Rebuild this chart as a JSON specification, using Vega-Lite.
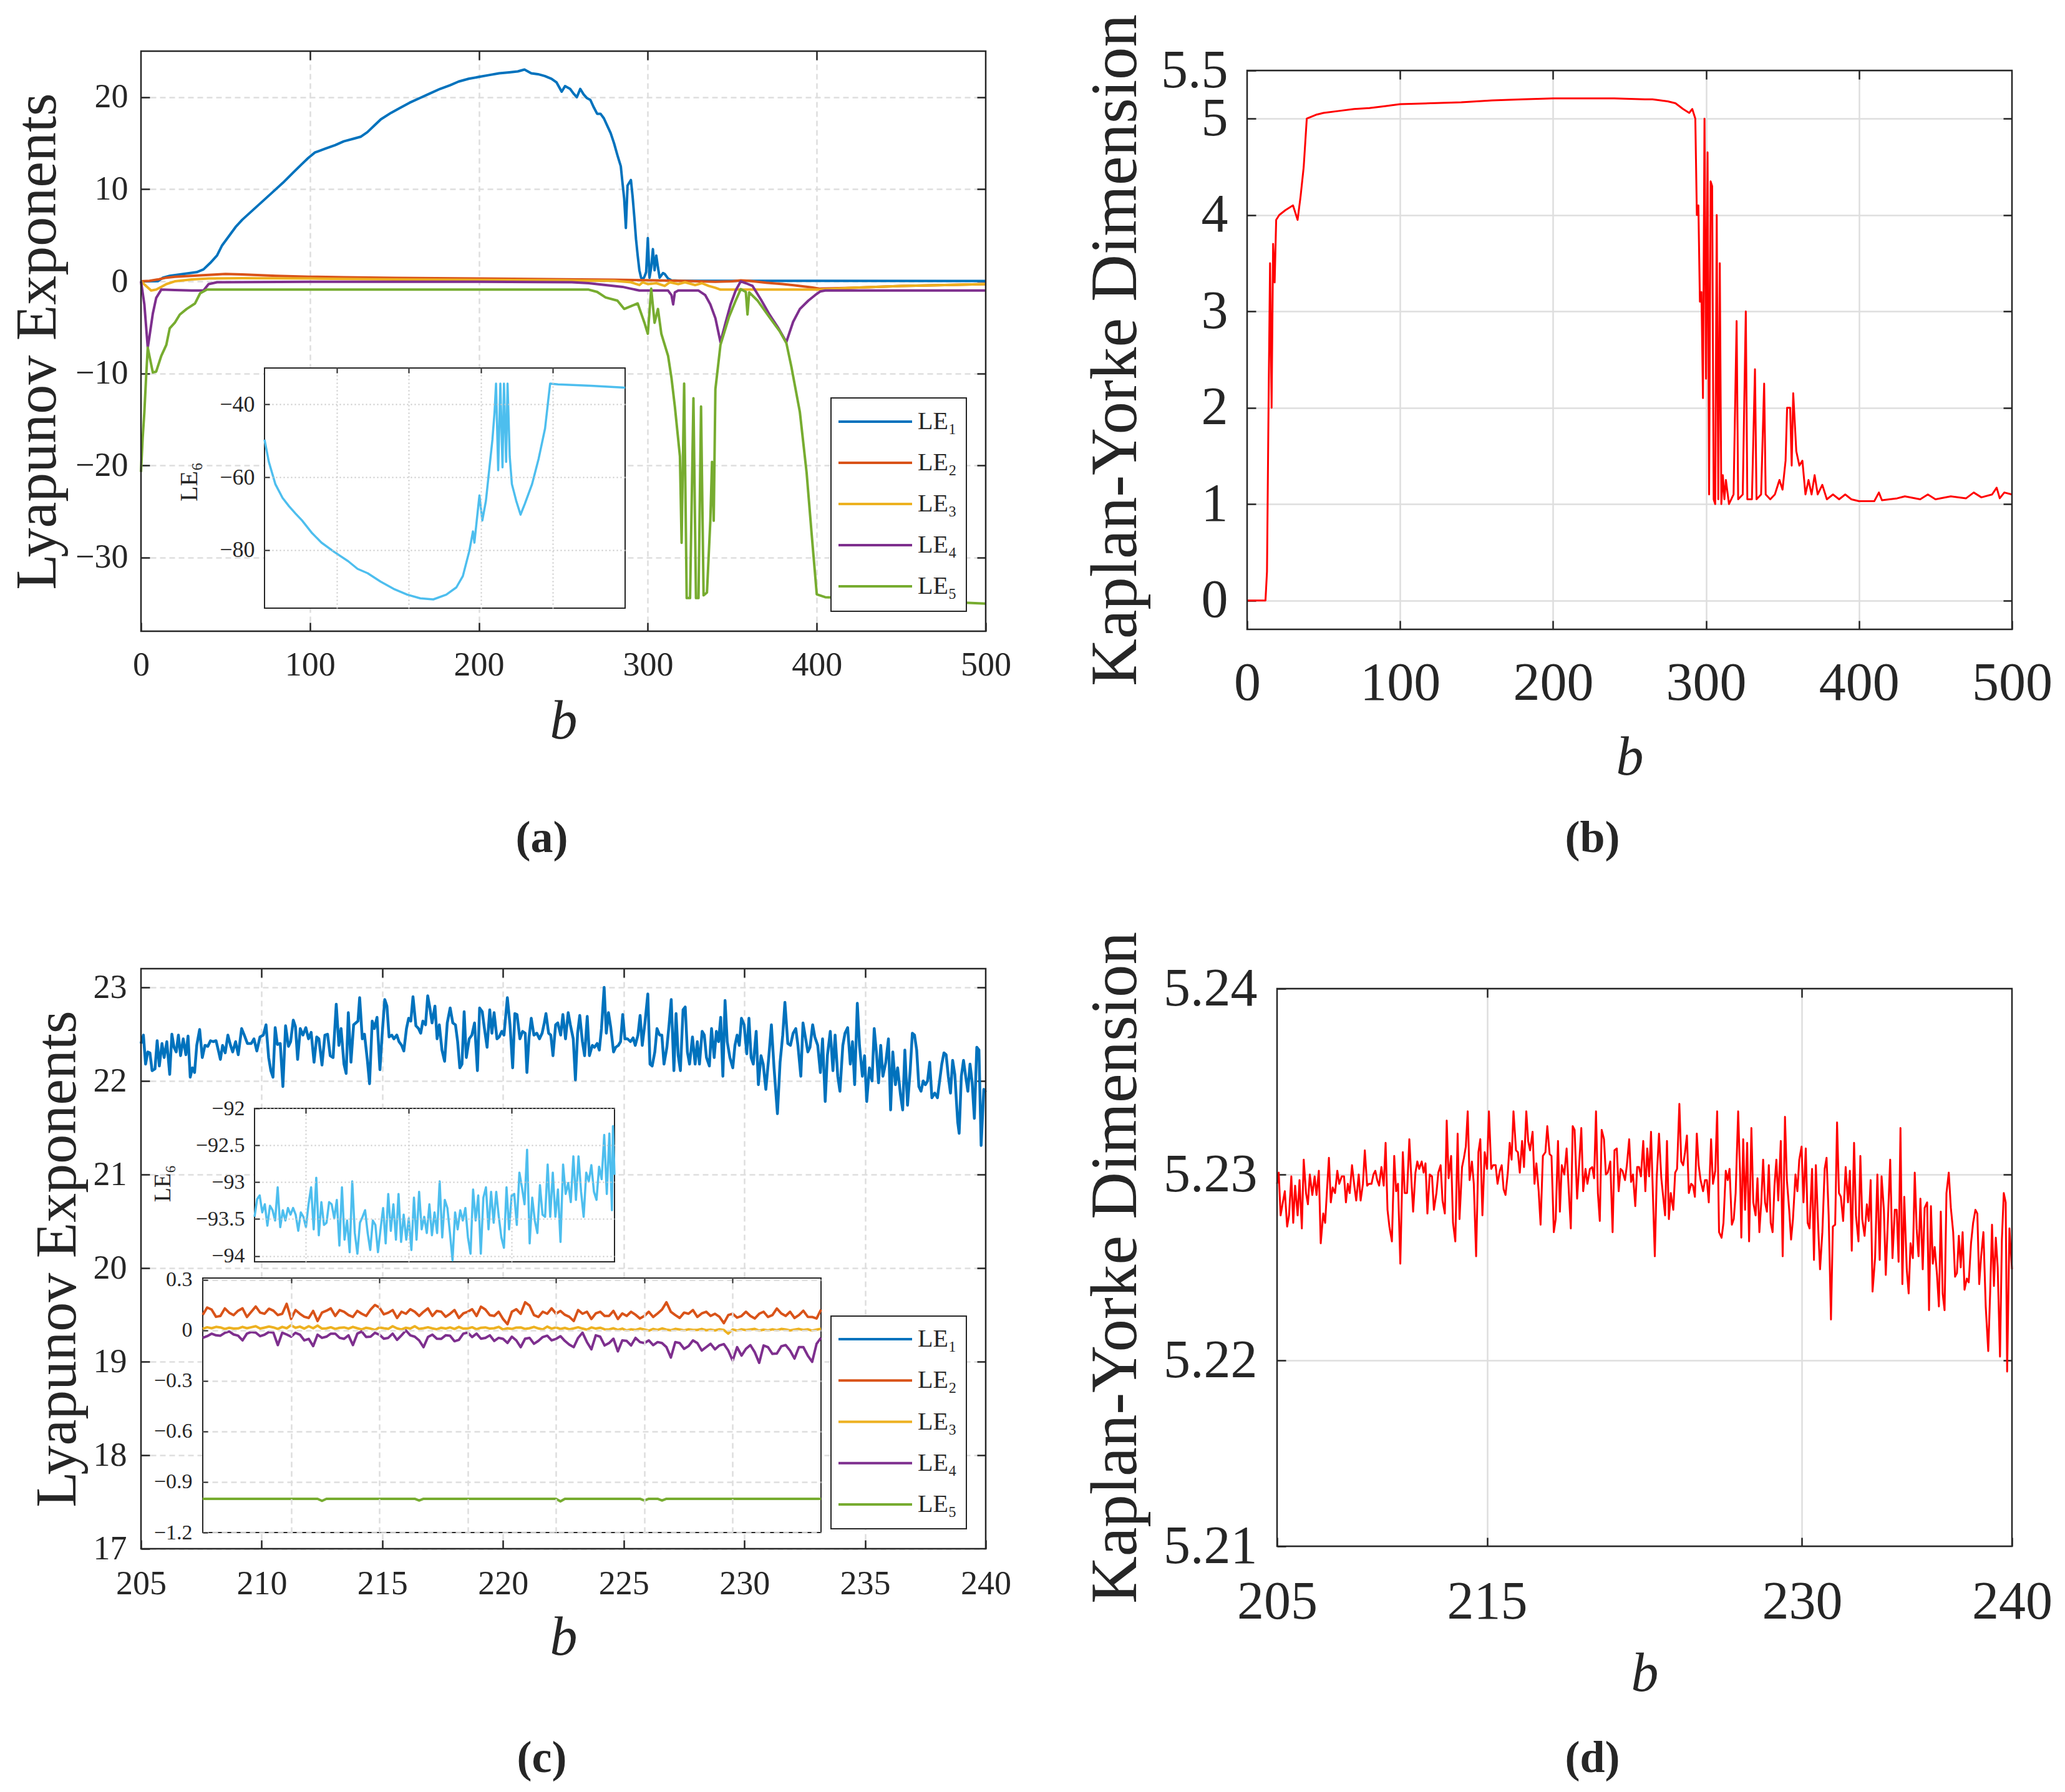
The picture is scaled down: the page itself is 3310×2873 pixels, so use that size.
{
"$schema": "https://vega.github.io/schema/vega-lite/v6.json",
"width": 3310,
"height": 2873,
"autosize": "none",
"padding": 0,
"background": "white",
"config": {
  "font": "Liberation Serif",
  "view": {"stroke": null},
  "axis": {"labelFont": "Liberation Serif", "titleFont": "Liberation Serif", "labelColor": "#262626", "titleColor": "#262626", "tickColor": "#262626", "tickWidth": 2.5, "tickSize": -14, "ticks": true, "domain": false, "titleFontWeight": "normal", "labelFlush": false, "labelOverlap": false, "gridColor": "#DEDEDE", "gridWidth": 2.5, "titleAlign": "center", "titleBaseline": "alphabetic"},
  "text": {"font": "Liberation Serif"}
},
"datasets": {
  "leg": [{"s": "LE1", "lab": "LE₁"}, {"s": "LE2", "lab": "LE₂"}, {"s": "LE3", "lab": "LE₃"}, {"s": "LE4", "lab": "LE₄"}, {"s": "LE5", "lab": "LE₅"}],
  "a": [
    {"s":"LE1","b":0,"v":0},{"s":"LE1","b":10,"v":0.02},{"s":"LE1","b":13,"v":0.4},{"s":"LE1","b":17,"v":0.6},{"s":"LE1","b":21,"v":0.7},{"s":"LE1","b":27,"v":0.85},{"s":"LE1","b":33,"v":1.0},{"s":"LE1","b":37,"v":1.3},{"s":"LE1","b":41,"v":2.0},{"s":"LE1","b":45,"v":2.8},{"s":"LE1","b":48,"v":3.9},{"s":"LE1","b":52,"v":4.9},{"s":"LE1","b":56,"v":5.9},{"s":"LE1","b":60,"v":6.7},{"s":"LE1","b":66,"v":7.7},{"s":"LE1","b":72,"v":8.7},{"s":"LE1","b":78,"v":9.7},{"s":"LE1","b":84,"v":10.7},{"s":"LE1","b":90,"v":11.8},{"s":"LE1","b":95,"v":12.7},{"s":"LE1","b":99,"v":13.4},{"s":"LE1","b":103,"v":14.0},{"s":"LE1","b":109,"v":14.4},{"s":"LE1","b":115,"v":14.8},{"s":"LE1","b":120,"v":15.2},{"s":"LE1","b":126,"v":15.5},{"s":"LE1","b":130,"v":15.7},{"s":"LE1","b":134,"v":16.2},{"s":"LE1","b":138,"v":16.9},{"s":"LE1","b":142,"v":17.6},{"s":"LE1","b":148,"v":18.3},{"s":"LE1","b":153,"v":18.8},{"s":"LE1","b":159,"v":19.4},{"s":"LE1","b":165,"v":19.9},{"s":"LE1","b":171,"v":20.4},{"s":"LE1","b":177,"v":20.9},{"s":"LE1","b":183,"v":21.3},{"s":"LE1","b":188,"v":21.7},{"s":"LE1","b":194,"v":22.0},{"s":"LE1","b":200,"v":22.2},{"s":"LE1","b":206,"v":22.4},{"s":"LE1","b":212,"v":22.6},{"s":"LE1","b":218,"v":22.7},{"s":"LE1","b":223,"v":22.8},{"s":"LE1","b":227,"v":23.0},{"s":"LE1","b":231,"v":22.6},{"s":"LE1","b":235,"v":22.5},{"s":"LE1","b":239,"v":22.3},{"s":"LE1","b":243,"v":22.0},{"s":"LE1","b":246,"v":21.6},{"s":"LE1","b":249,"v":20.6},{"s":"LE1","b":251,"v":21.2},{"s":"LE1","b":254,"v":20.9},{"s":"LE1","b":256,"v":20.4},{"s":"LE1","b":258,"v":20.0},{"s":"LE1","b":260,"v":20.9},{"s":"LE1","b":262,"v":20.3},{"s":"LE1","b":264,"v":19.9},{"s":"LE1","b":266,"v":19.7},{"s":"LE1","b":268,"v":18.9},{"s":"LE1","b":270,"v":18.2},{"s":"LE1","b":272,"v":18.2},{"s":"LE1","b":274,"v":17.7},{"s":"LE1","b":276,"v":16.9},{"s":"LE1","b":278,"v":16.1},{"s":"LE1","b":280,"v":15.0},{"s":"LE1","b":282,"v":13.7},{"s":"LE1","b":284,"v":12.5},{"s":"LE1","b":285,"v":10.7},{"s":"LE1","b":286,"v":9.0},{"s":"LE1","b":287,"v":5.8},{"s":"LE1","b":288,"v":10.4},{"s":"LE1","b":290,"v":11.0},{"s":"LE1","b":291,"v":9.2},{"s":"LE1","b":292,"v":7.0},{"s":"LE1","b":293,"v":4.6},{"s":"LE1","b":294,"v":2.8},{"s":"LE1","b":295,"v":1.2},{"s":"LE1","b":296,"v":0.4},{"s":"LE1","b":297,"v":0.2},{"s":"LE1","b":298,"v":0.5},{"s":"LE1","b":299,"v":1.0},{"s":"LE1","b":300,"v":4.7},{"s":"LE1","b":301,"v":0.4},{"s":"LE1","b":302,"v":1.5},{"s":"LE1","b":303,"v":3.5},{"s":"LE1","b":304,"v":1.2},{"s":"LE1","b":305,"v":2.8},{"s":"LE1","b":306,"v":1.5},{"s":"LE1","b":307,"v":0.4},{"s":"LE1","b":309,"v":0.9},{"s":"LE1","b":310,"v":0.8},{"s":"LE1","b":312,"v":0.3},{"s":"LE1","b":314,"v":0.1},{"s":"LE1","b":320,"v":0.05},{"s":"LE1","b":400,"v":0.05},{"s":"LE1","b":500,"v":0.03},
    {"s":"LE2","b":0,"v":0},{"s":"LE2","b":5,"v":0.05},{"s":"LE2","b":10,"v":0.2},{"s":"LE2","b":15,"v":0.4},{"s":"LE2","b":20,"v":0.5},{"s":"LE2","b":30,"v":0.6},{"s":"LE2","b":40,"v":0.7},{"s":"LE2","b":50,"v":0.8},{"s":"LE2","b":60,"v":0.75},{"s":"LE2","b":80,"v":0.6},{"s":"LE2","b":100,"v":0.5},{"s":"LE2","b":120,"v":0.45},{"s":"LE2","b":150,"v":0.38},{"s":"LE2","b":200,"v":0.3},{"s":"LE2","b":250,"v":0.22},{"s":"LE2","b":280,"v":0.18},{"s":"LE2","b":300,"v":0.12},{"s":"LE2","b":320,"v":0.05},{"s":"LE2","b":340,"v":-0.05},{"s":"LE2","b":350,"v":0.0},{"s":"LE2","b":355,"v":0.1},{"s":"LE2","b":360,"v":0.05},{"s":"LE2","b":370,"v":-0.15},{"s":"LE2","b":380,"v":-0.3},{"s":"LE2","b":390,"v":-0.5},{"s":"LE2","b":397,"v":-0.65},{"s":"LE2","b":402,"v":-0.8},{"s":"LE2","b":420,"v":-0.7},{"s":"LE2","b":450,"v":-0.5},{"s":"LE2","b":480,"v":-0.38},{"s":"LE2","b":500,"v":-0.3},
    {"s":"LE3","b":0,"v":0},{"s":"LE3","b":3,"v":-0.5},{"s":"LE3","b":6,"v":-1.0},{"s":"LE3","b":9,"v":-0.9},{"s":"LE3","b":12,"v":-0.6},{"s":"LE3","b":15,"v":-0.3},{"s":"LE3","b":20,"v":0.0},{"s":"LE3","b":30,"v":0.2},{"s":"LE3","b":40,"v":0.3},{"s":"LE3","b":60,"v":0.35},{"s":"LE3","b":100,"v":0.3},{"s":"LE3","b":150,"v":0.2},{"s":"LE3","b":200,"v":0.15},{"s":"LE3","b":250,"v":0.1},{"s":"LE3","b":280,"v":0.05},{"s":"LE3","b":290,"v":-0.1},{"s":"LE3","b":295,"v":-0.4},{"s":"LE3","b":297,"v":-0.1},{"s":"LE3","b":300,"v":-0.3},{"s":"LE3","b":305,"v":-0.2},{"s":"LE3","b":310,"v":-0.5},{"s":"LE3","b":313,"v":-0.1},{"s":"LE3","b":318,"v":-0.3},{"s":"LE3","b":322,"v":-0.1},{"s":"LE3","b":328,"v":-0.4},{"s":"LE3","b":332,"v":-0.2},{"s":"LE3","b":336,"v":-0.5},{"s":"LE3","b":340,"v":-0.7},{"s":"LE3","b":343,"v":-0.9},{"s":"LE3","b":402,"v":-0.9},{"s":"LE3","b":420,"v":-0.7},{"s":"LE3","b":450,"v":-0.5},{"s":"LE3","b":480,"v":-0.38},{"s":"LE3","b":500,"v":-0.3},
    {"s":"LE4","b":0,"v":0},{"s":"LE4","b":2,"v":-2.5},{"s":"LE4","b":4,"v":-7.2},{"s":"LE4","b":5,"v":-6.0},{"s":"LE4","b":7,"v":-3.5},{"s":"LE4","b":9,"v":-1.8},{"s":"LE4","b":12,"v":-0.9},{"s":"LE4","b":20,"v":-0.95},{"s":"LE4","b":30,"v":-1.0},{"s":"LE4","b":37,"v":-1.0},{"s":"LE4","b":40,"v":-0.3},{"s":"LE4","b":45,"v":-0.1},{"s":"LE4","b":100,"v":-0.05},{"s":"LE4","b":200,"v":-0.05},{"s":"LE4","b":255,"v":-0.1},{"s":"LE4","b":265,"v":-0.2},{"s":"LE4","b":275,"v":-0.4},{"s":"LE4","b":285,"v":-0.6},{"s":"LE4","b":290,"v":-0.8},{"s":"LE4","b":295,"v":-1.0},{"s":"LE4","b":312,"v":-1.0},{"s":"LE4","b":314,"v":-1.5},{"s":"LE4","b":315,"v":-2.5},{"s":"LE4","b":316,"v":-1.2},{"s":"LE4","b":318,"v":-1.0},{"s":"LE4","b":330,"v":-1.0},{"s":"LE4","b":334,"v":-1.5},{"s":"LE4","b":337,"v":-2.5},{"s":"LE4","b":340,"v":-4.0},{"s":"LE4","b":343,"v":-6.6},{"s":"LE4","b":346,"v":-4.5},{"s":"LE4","b":349,"v":-2.5},{"s":"LE4","b":352,"v":-1.0},{"s":"LE4","b":355,"v":0.0},{"s":"LE4","b":358,"v":-0.2},{"s":"LE4","b":362,"v":-0.5},{"s":"LE4","b":367,"v":-2.0},{"s":"LE4","b":372,"v":-3.6},{"s":"LE4","b":377,"v":-5.0},{"s":"LE4","b":382,"v":-6.6},{"s":"LE4","b":384,"v":-5.5},{"s":"LE4","b":386,"v":-4.4},{"s":"LE4","b":390,"v":-3.0},{"s":"LE4","b":395,"v":-2.1},{"s":"LE4","b":399,"v":-1.5},{"s":"LE4","b":402,"v":-1.1},{"s":"LE4","b":405,"v":-1.0},{"s":"LE4","b":500,"v":-1.0},
    {"s":"LE5","b":0,"v":-20.7},{"s":"LE5","b":1,"v":-17},{"s":"LE5","b":2,"v":-14.2},{"s":"LE5","b":3,"v":-10.5},{"s":"LE5","b":4,"v":-7.2},{"s":"LE5","b":5,"v":-8.1},{"s":"LE5","b":7,"v":-9.9},{"s":"LE5","b":9,"v":-9.8},{"s":"LE5","b":12,"v":-8.1},{"s":"LE5","b":15,"v":-6.9},{"s":"LE5","b":17,"v":-5.1},{"s":"LE5","b":20,"v":-4.5},{"s":"LE5","b":23,"v":-3.6},{"s":"LE5","b":27,"v":-3.0},{"s":"LE5","b":32,"v":-2.4},{"s":"LE5","b":35,"v":-1.3},{"s":"LE5","b":39,"v":-0.9},{"s":"LE5","b":100,"v":-0.9},{"s":"LE5","b":200,"v":-0.9},{"s":"LE5","b":265,"v":-0.9},{"s":"LE5","b":270,"v":-1.15},{"s":"LE5","b":275,"v":-1.75},{"s":"LE5","b":282,"v":-2.1},{"s":"LE5","b":286,"v":-3.0},{"s":"LE5","b":290,"v":-2.7},{"s":"LE5","b":294,"v":-2.4},{"s":"LE5","b":298,"v":-4.5},{"s":"LE5","b":300,"v":-5.7},{"s":"LE5","b":302,"v":-0.8},{"s":"LE5","b":304,"v":-4.5},{"s":"LE5","b":306,"v":-3.0},{"s":"LE5","b":308,"v":-5.7},{"s":"LE5","b":312,"v":-8.1},{"s":"LE5","b":314,"v":-10.5},{"s":"LE5","b":316,"v":-13.6},{"s":"LE5","b":319,"v":-19.0},{"s":"LE5","b":320,"v":-28.4},{"s":"LE5","b":321.5,"v":-11.1},{"s":"LE5","b":323,"v":-34.4},{"s":"LE5","b":325,"v":-34.4},{"s":"LE5","b":327,"v":-12.7},{"s":"LE5","b":328.5,"v":-34.4},{"s":"LE5","b":330,"v":-34.4},{"s":"LE5","b":331.5,"v":-13.6},{"s":"LE5","b":333,"v":-34.1},{"s":"LE5","b":335,"v":-33.8},{"s":"LE5","b":337,"v":-26},{"s":"LE5","b":338,"v":-19.6},{"s":"LE5","b":339,"v":-26},{"s":"LE5","b":340,"v":-11.7},{"s":"LE5","b":343,"v":-6.9},{"s":"LE5","b":348,"v":-3.9},{"s":"LE5","b":352,"v":-2.1},{"s":"LE5","b":355,"v":-0.85},{"s":"LE5","b":358,"v":-1.15},{"s":"LE5","b":359,"v":-3.6},{"s":"LE5","b":360,"v":-1.2},{"s":"LE5","b":365,"v":-2.1},{"s":"LE5","b":372,"v":-3.9},{"s":"LE5","b":378,"v":-5.4},{"s":"LE5","b":382,"v":-6.7},{"s":"LE5","b":385,"v":-9.3},{"s":"LE5","b":390,"v":-14.2},{"s":"LE5","b":394,"v":-20.8},{"s":"LE5","b":397,"v":-27.5},{"s":"LE5","b":400,"v":-34.0},{"s":"LE5","b":405,"v":-34.3},{"s":"LE5","b":450,"v":-34.6},{"s":"LE5","b":500,"v":-35.0}
  ],
  "a6": [
    {"b":0,"v":-49.7},{"b":6,"v":-55.8},{"b":15,"v":-61.9},{"b":25,"v":-65.7},{"b":34,"v":-68.0},{"b":43,"v":-70.0},{"b":52,"v":-71.9},{"b":66,"v":-75.4},{"b":79,"v":-78.0},{"b":97,"v":-80.6},{"b":116,"v":-83.1},{"b":129,"v":-85.2},{"b":143,"v":-86.4},{"b":161,"v":-88.7},{"b":179,"v":-90.7},{"b":198,"v":-92.3},{"b":216,"v":-93.3},{"b":234,"v":-93.6},{"b":252,"v":-92.3},{"b":266,"v":-90.3},{"b":275,"v":-87.2},{"b":284,"v":-80.3},{"b":289,"v":-74.9},{"b":291,"v":-78.0},{"b":298,"v":-65.0},{"b":302,"v":-71.9},{"b":307,"v":-66.5},{"b":316,"v":-49.7},{"b":319,"v":-42.0},{"b":321,"v":-34.3},{"b":324,"v":-58.1},{"b":327,"v":-34.3},{"b":330,"v":-57.3},{"b":332,"v":-34.3},{"b":335,"v":-55.8},{"b":337,"v":-34.3},{"b":340,"v":-54.3},{"b":343,"v":-61.9},{"b":349,"v":-66.5},{"b":355,"v":-70.3},{"b":361,"v":-67.3},{"b":371,"v":-61.9},{"b":380,"v":-55.0},{"b":389,"v":-46.6},{"b":396,"v":-34.3},{"b":407,"v":-34.5},{"b":453,"v":-34.9},{"b":500,"v":-35.4}
  ],
  "b": [
    {"b":0,"v":0},{"b":12,"v":0},{"b":13,"v":0.3},{"b":14,"v":2.0},{"b":15,"v":3.5},{"b":16,"v":2.0},{"b":17,"v":3.7},{"b":18,"v":3.3},{"b":19,"v":3.95},{"b":21,"v":4.0},{"b":25,"v":4.05},{"b":30,"v":4.1},{"b":33,"v":3.95},{"b":35,"v":4.2},{"b":37,"v":4.5},{"b":39,"v":5.0},{"b":45,"v":5.04},{"b":50,"v":5.06},{"b":60,"v":5.08},{"b":70,"v":5.1},{"b":80,"v":5.11},{"b":90,"v":5.13},{"b":100,"v":5.15},{"b":120,"v":5.16},{"b":140,"v":5.17},{"b":160,"v":5.19},{"b":180,"v":5.2},{"b":200,"v":5.21},{"b":220,"v":5.21},{"b":240,"v":5.21},{"b":260,"v":5.2},{"b":265,"v":5.2},{"b":275,"v":5.18},{"b":280,"v":5.16},{"b":285,"v":5.1},{"b":289,"v":5.06},{"b":291,"v":5.1},{"b":293,"v":5.0},{"b":294,"v":4.0},{"b":295,"v":4.1},{"b":296,"v":3.1},{"b":297,"v":3.2},{"b":298,"v":2.1},{"b":299,"v":5.0},{"b":300,"v":2.3},{"b":301,"v":4.65},{"b":302,"v":1.1},{"b":303,"v":4.35},{"b":304,"v":4.3},{"b":305,"v":1.05},{"b":306,"v":1.0},{"b":307,"v":4.0},{"b":308,"v":1.05},{"b":309,"v":3.5},{"b":310,"v":1.0},{"b":311,"v":1.3},{"b":312,"v":1.05},{"b":313,"v":1.25},{"b":315,"v":1.0},{"b":318,"v":1.1},{"b":320,"v":2.9},{"b":321,"v":1.05},{"b":324,"v":1.1},{"b":326,"v":3.0},{"b":327,"v":1.05},{"b":330,"v":1.05},{"b":332,"v":2.4},{"b":333,"v":1.05},{"b":336,"v":1.1},{"b":338,"v":2.25},{"b":339,"v":1.1},{"b":342,"v":1.05},{"b":345,"v":1.1},{"b":348,"v":1.25},{"b":350,"v":1.15},{"b":352,"v":1.45},{"b":353,"v":2.0},{"b":355,"v":2.0},{"b":356,"v":1.4},{"b":357,"v":2.15},{"b":359,"v":1.55},{"b":361,"v":1.4},{"b":363,"v":1.45},{"b":365,"v":1.1},{"b":367,"v":1.25},{"b":369,"v":1.1},{"b":371,"v":1.3},{"b":373,"v":1.1},{"b":376,"v":1.2},{"b":379,"v":1.05},{"b":383,"v":1.1},{"b":387,"v":1.05},{"b":391,"v":1.1},{"b":395,"v":1.05},{"b":400,"v":1.03},{"b":410,"v":1.03},{"b":413,"v":1.12},{"b":415,"v":1.04},{"b":425,"v":1.06},{"b":430,"v":1.08},{"b":440,"v":1.05},{"b":445,"v":1.1},{"b":450,"v":1.05},{"b":460,"v":1.08},{"b":470,"v":1.06},{"b":475,"v":1.12},{"b":480,"v":1.07},{"b":487,"v":1.1},{"b":490,"v":1.17},{"b":492,"v":1.06},{"b":495,"v":1.12},{"b":500,"v":1.1}
  ],
  "c1": [
    {"b":205.0,"v":22.40},{"b":205.10,"v":22.49},{"b":205.19,"v":22.18},{"b":205.28,"v":22.31},{"b":205.37,"v":22.30},{"b":205.46,"v":22.11},{"b":205.58,"v":22.13},{"b":205.67,"v":22.43},{"b":205.76,"v":22.16},{"b":205.87,"v":22.40},{"b":205.96,"v":22.25},{"b":206.07,"v":22.42},{"b":206.19,"v":22.07},{"b":206.28,"v":22.50},{"b":206.37,"v":22.36},{"b":206.46,"v":22.31},{"b":206.55,"v":22.49},{"b":206.64,"v":22.27},{"b":206.75,"v":22.45},{"b":206.86,"v":22.28},{"b":206.95,"v":22.48},{"b":207.04,"v":22.04},{"b":207.13,"v":22.14},{"b":207.22,"v":22.09},{"b":207.31,"v":22.38},{"b":207.43,"v":22.55},{"b":207.54,"v":22.25},{"b":207.65,"v":22.38},{"b":207.77,"v":22.37},{"b":207.88,"v":22.43},{"b":207.99,"v":22.42},{"b":208.11,"v":22.43},{"b":208.22,"v":22.31},{"b":208.29,"v":22.23},{"b":208.38,"v":22.38},{"b":208.49,"v":22.30},{"b":208.60,"v":22.49},{"b":208.71,"v":22.38},{"b":208.80,"v":22.31},{"b":208.92,"v":22.42},{"b":209.03,"v":22.28},{"b":209.17,"v":22.56},{"b":209.28,"v":22.49},{"b":209.41,"v":22.40},{"b":209.57,"v":22.40},{"b":209.68,"v":22.45},{"b":209.80,"v":22.32},{"b":209.93,"v":22.47},{"b":210.07,"v":22.49},{"b":210.18,"v":22.60},{"b":210.29,"v":22.25},{"b":210.38,"v":22.11},{"b":210.47,"v":22.04},{"b":210.56,"v":22.57},{"b":210.65,"v":22.39},{"b":210.77,"v":22.40},{"b":210.88,"v":21.94},{"b":210.99,"v":22.59},{"b":211.11,"v":22.37},{"b":211.20,"v":22.42},{"b":211.31,"v":22.65},{"b":211.40,"v":22.58},{"b":211.49,"v":22.23},{"b":211.60,"v":22.56},{"b":211.71,"v":22.49},{"b":211.83,"v":22.57},{"b":211.94,"v":22.45},{"b":212.05,"v":22.52},{"b":212.17,"v":22.20},{"b":212.28,"v":22.47},{"b":212.37,"v":22.45},{"b":212.50,"v":22.17},{"b":212.62,"v":22.49},{"b":212.73,"v":22.50},{"b":212.84,"v":22.27},{"b":212.96,"v":22.25},{"b":213.09,"v":22.82},{"b":213.20,"v":22.38},{"b":213.29,"v":22.56},{"b":213.41,"v":22.18},{"b":213.50,"v":22.08},{"b":213.59,"v":22.73},{"b":213.70,"v":22.20},{"b":213.81,"v":22.60},{"b":213.90,"v":22.62},{"b":213.99,"v":22.64},{"b":214.06,"v":22.89},{"b":214.17,"v":22.45},{"b":214.26,"v":22.50},{"b":214.38,"v":22.22},{"b":214.47,"v":21.97},{"b":214.58,"v":22.64},{"b":214.67,"v":22.56},{"b":214.78,"v":22.68},{"b":214.90,"v":22.12},{"b":214.99,"v":22.49},{"b":215.10,"v":22.87},{"b":215.19,"v":22.80},{"b":215.28,"v":22.47},{"b":215.39,"v":22.49},{"b":215.48,"v":22.45},{"b":215.60,"v":22.49},{"b":215.69,"v":22.42},{"b":215.80,"v":22.38},{"b":215.89,"v":22.32},{"b":216.00,"v":22.56},{"b":216.09,"v":22.67},{"b":216.18,"v":22.64},{"b":216.27,"v":22.90},{"b":216.39,"v":22.59},{"b":216.50,"v":22.56},{"b":216.59,"v":22.51},{"b":216.68,"v":22.64},{"b":216.79,"v":22.60},{"b":216.88,"v":22.91},{"b":216.97,"v":22.78},{"b":217.06,"v":22.62},{"b":217.18,"v":22.80},{"b":217.27,"v":22.45},{"b":217.36,"v":22.60},{"b":217.47,"v":22.33},{"b":217.58,"v":22.21},{"b":217.69,"v":22.62},{"b":217.81,"v":22.78},{"b":217.92,"v":22.62},{"b":218.03,"v":22.60},{"b":218.12,"v":22.42},{"b":218.21,"v":22.14},{"b":218.30,"v":22.18},{"b":218.39,"v":22.74},{"b":218.48,"v":22.25},{"b":218.60,"v":22.45},{"b":218.71,"v":22.49},{"b":218.82,"v":22.62},{"b":218.94,"v":22.11},{"b":219.03,"v":22.78},{"b":219.14,"v":22.74},{"b":219.23,"v":22.56},{"b":219.34,"v":22.36},{"b":219.45,"v":22.76},{"b":219.54,"v":22.51},{"b":219.63,"v":22.73},{"b":219.75,"v":22.45},{"b":219.84,"v":22.47},{"b":219.95,"v":22.53},{"b":220.04,"v":22.49},{"b":220.18,"v":22.89},{"b":220.29,"v":22.60},{"b":220.40,"v":22.14},{"b":220.49,"v":22.72},{"b":220.58,"v":22.71},{"b":220.70,"v":22.45},{"b":220.81,"v":22.53},{"b":220.92,"v":22.51},{"b":220.99,"v":22.09},{"b":221.08,"v":22.47},{"b":221.17,"v":22.67},{"b":221.28,"v":22.49},{"b":221.40,"v":22.51},{"b":221.51,"v":22.45},{"b":221.62,"v":22.51},{"b":221.71,"v":22.62},{"b":221.78,"v":22.72},{"b":221.89,"v":22.51},{"b":221.98,"v":22.49},{"b":222.07,"v":22.27},{"b":222.18,"v":22.60},{"b":222.27,"v":22.62},{"b":222.39,"v":22.49},{"b":222.48,"v":22.71},{"b":222.59,"v":22.45},{"b":222.70,"v":22.73},{"b":222.79,"v":22.60},{"b":222.91,"v":22.45},{"b":223.00,"v":22.01},{"b":223.09,"v":22.51},{"b":223.18,"v":22.70},{"b":223.29,"v":22.42},{"b":223.38,"v":22.27},{"b":223.49,"v":22.69},{"b":223.58,"v":22.27},{"b":223.70,"v":22.38},{"b":223.79,"v":22.36},{"b":223.90,"v":22.40},{"b":223.99,"v":22.33},{"b":224.08,"v":22.56},{"b":224.19,"v":23.00},{"b":224.28,"v":22.51},{"b":224.37,"v":22.73},{"b":224.46,"v":22.58},{"b":224.58,"v":22.31},{"b":224.67,"v":22.36},{"b":224.78,"v":22.38},{"b":224.87,"v":22.42},{"b":224.96,"v":22.71},{"b":225.05,"v":22.45},{"b":225.16,"v":22.45},{"b":225.28,"v":22.42},{"b":225.39,"v":22.46},{"b":225.48,"v":22.38},{"b":225.59,"v":22.49},{"b":225.68,"v":22.70},{"b":225.77,"v":22.38},{"b":225.88,"v":22.62},{"b":226.00,"v":22.93},{"b":226.09,"v":22.18},{"b":226.18,"v":22.16},{"b":226.29,"v":22.31},{"b":226.38,"v":22.56},{"b":226.49,"v":22.49},{"b":226.58,"v":22.49},{"b":226.67,"v":22.18},{"b":226.79,"v":22.36},{"b":226.88,"v":22.60},{"b":226.97,"v":22.87},{"b":227.08,"v":22.11},{"b":227.17,"v":22.72},{"b":227.26,"v":22.27},{"b":227.35,"v":22.11},{"b":227.46,"v":22.76},{"b":227.55,"v":22.79},{"b":227.64,"v":22.31},{"b":227.73,"v":22.18},{"b":227.85,"v":22.47},{"b":227.96,"v":22.18},{"b":228.05,"v":22.42},{"b":228.14,"v":22.18},{"b":228.25,"v":22.53},{"b":228.34,"v":22.49},{"b":228.43,"v":22.25},{"b":228.55,"v":22.16},{"b":228.64,"v":22.56},{"b":228.75,"v":22.25},{"b":228.84,"v":22.53},{"b":228.93,"v":22.42},{"b":229.02,"v":22.68},{"b":229.11,"v":22.05},{"b":229.20,"v":22.86},{"b":229.29,"v":22.42},{"b":229.40,"v":22.25},{"b":229.52,"v":22.14},{"b":229.61,"v":22.38},{"b":229.70,"v":22.49},{"b":229.79,"v":22.38},{"b":229.88,"v":22.67},{"b":229.99,"v":22.60},{"b":230.10,"v":22.29},{"b":230.19,"v":22.67},{"b":230.28,"v":22.25},{"b":230.37,"v":22.18},{"b":230.49,"v":22.53},{"b":230.58,"v":21.96},{"b":230.69,"v":22.27},{"b":230.78,"v":22.18},{"b":230.89,"v":21.91},{"b":231.01,"v":22.25},{"b":231.12,"v":22.60},{"b":231.23,"v":22.14},{"b":231.37,"v":21.65},{"b":231.48,"v":22.20},{"b":231.59,"v":22.49},{"b":231.68,"v":22.84},{"b":231.80,"v":22.40},{"b":231.91,"v":22.38},{"b":232.02,"v":22.51},{"b":232.13,"v":22.56},{"b":232.22,"v":22.38},{"b":232.34,"v":22.05},{"b":232.43,"v":22.62},{"b":232.54,"v":22.45},{"b":232.63,"v":22.31},{"b":232.72,"v":22.36},{"b":232.83,"v":22.60},{"b":232.92,"v":22.47},{"b":233.04,"v":22.38},{"b":233.15,"v":22.09},{"b":233.24,"v":22.45},{"b":233.35,"v":21.78},{"b":233.44,"v":22.27},{"b":233.56,"v":22.53},{"b":233.67,"v":22.11},{"b":233.76,"v":22.49},{"b":233.87,"v":22.05},{"b":233.96,"v":21.89},{"b":234.08,"v":22.38},{"b":234.17,"v":22.51},{"b":234.28,"v":22.57},{"b":234.39,"v":22.18},{"b":234.48,"v":22.42},{"b":234.57,"v":21.96},{"b":234.68,"v":22.83},{"b":234.77,"v":22.38},{"b":234.89,"v":22.05},{"b":234.98,"v":22.27},{"b":235.07,"v":21.78},{"b":235.18,"v":22.14},{"b":235.29,"v":22.00},{"b":235.38,"v":22.56},{"b":235.47,"v":22.31},{"b":235.56,"v":21.98},{"b":235.65,"v":22.38},{"b":235.74,"v":22.05},{"b":235.86,"v":22.20},{"b":235.97,"v":22.45},{"b":236.06,"v":21.69},{"b":236.15,"v":22.31},{"b":236.26,"v":21.96},{"b":236.35,"v":22.14},{"b":236.47,"v":21.85},{"b":236.56,"v":21.69},{"b":236.65,"v":22.33},{"b":236.76,"v":21.74},{"b":236.87,"v":22.11},{"b":236.96,"v":22.51},{"b":237.05,"v":22.49},{"b":237.14,"v":22.33},{"b":237.23,"v":21.94},{"b":237.32,"v":21.89},{"b":237.41,"v":22.00},{"b":237.50,"v":21.96},{"b":237.59,"v":22.00},{"b":237.68,"v":22.20},{"b":237.77,"v":21.82},{"b":237.89,"v":21.87},{"b":238.00,"v":21.82},{"b":238.09,"v":22.00},{"b":238.18,"v":22.18},{"b":238.27,"v":22.30},{"b":238.36,"v":22.28},{"b":238.45,"v":22.05},{"b":238.54,"v":21.87},{"b":238.63,"v":22.22},{"b":238.72,"v":22.07},{"b":238.84,"v":21.56},{"b":238.90,"v":21.44},{"b":238.99,"v":22.05},{"b":239.08,"v":22.22},{"b":239.17,"v":22.05},{"b":239.26,"v":21.89},{"b":239.35,"v":22.18},{"b":239.44,"v":21.98},{"b":239.53,"v":21.60},{"b":239.63,"v":22.36},{"b":239.72,"v":22.33},{"b":239.81,"v":21.31},{"b":239.92,"v":21.91},{"b":240.0,"v":21.88}
  ],
  "c6": [
    {"b":205,"v":-93.47},{"b":205.25,"v":-93.23},{"b":205.5,"v":-93.18},{"b":205.75,"v":-93.41},{"b":206,"v":-93.30},{"b":206.25,"v":-93.59},{"b":206.5,"v":-93.32},{"b":206.75,"v":-93.38},{"b":207,"v":-93.52},{"b":207.25,"v":-93.07},{"b":207.5,"v":-93.61},{"b":207.75,"v":-93.38},{"b":208,"v":-93.52},{"b":208.25,"v":-93.35},{"b":208.5,"v":-93.44},{"b":208.75,"v":-93.35},{"b":209,"v":-93.44},{"b":209.25,"v":-93.66},{"b":209.5,"v":-93.41},{"b":209.75,"v":-93.47},{"b":210,"v":-93.61},{"b":210.25,"v":-93.30},{"b":210.5,"v":-93.07},{"b":210.75,"v":-93.64},{"b":211,"v":-92.94},{"b":211.25,"v":-93.72},{"b":211.5,"v":-93.27},{"b":211.75,"v":-93.58},{"b":212,"v":-93.55},{"b":212.25,"v":-93.27},{"b":212.5,"v":-93.30},{"b":212.75,"v":-93.49},{"b":213,"v":-93.24},{"b":213.25,"v":-93.86},{"b":213.5,"v":-93.07},{"b":213.75,"v":-93.78},{"b":214,"v":-93.52},{"b":214.25,"v":-93.95},{"b":214.5,"v":-92.99},{"b":214.75,"v":-93.69},{"b":215,"v":-93.97},{"b":215.25,"v":-93.55},{"b":215.5,"v":-93.47},{"b":215.75,"v":-93.38},{"b":216,"v":-93.69},{"b":216.25,"v":-93.92},{"b":216.5,"v":-93.52},{"b":216.75,"v":-93.58},{"b":217,"v":-93.95},{"b":217.25,"v":-93.64},{"b":217.5,"v":-93.35},{"b":217.75,"v":-93.83},{"b":218,"v":-93.16},{"b":218.25,"v":-93.66},{"b":218.5,"v":-93.30},{"b":218.75,"v":-93.78},{"b":219,"v":-93.16},{"b":219.25,"v":-93.81},{"b":219.5,"v":-93.44},{"b":219.75,"v":-93.78},{"b":220,"v":-93.49},{"b":220.25,"v":-93.92},{"b":220.5,"v":-93.21},{"b":220.75,"v":-93.78},{"b":221,"v":-93.13},{"b":221.25,"v":-93.64},{"b":221.5,"v":-93.47},{"b":221.75,"v":-93.69},{"b":222,"v":-93.30},{"b":222.25,"v":-93.72},{"b":222.5,"v":-93.41},{"b":222.75,"v":-93.69},{"b":223,"v":-92.99},{"b":223.25,"v":-93.75},{"b":223.5,"v":-93.24},{"b":223.75,"v":-93.35},{"b":224,"v":-93.69},{"b":224.25,"v":-94.06},{"b":224.5,"v":-93.41},{"b":224.75,"v":-93.64},{"b":225,"v":-93.38},{"b":225.25,"v":-93.52},{"b":225.5,"v":-93.35},{"b":225.75,"v":-93.75},{"b":226,"v":-93.97},{"b":226.25,"v":-93.10},{"b":226.5,"v":-93.52},{"b":226.75,"v":-93.18},{"b":227,"v":-93.97},{"b":227.25,"v":-93.21},{"b":227.5,"v":-93.07},{"b":227.75,"v":-93.64},{"b":228,"v":-93.13},{"b":228.25,"v":-93.55},{"b":228.5,"v":-93.13},{"b":228.75,"v":-93.47},{"b":229,"v":-93.75},{"b":229.25,"v":-93.89},{"b":229.5,"v":-93.07},{"b":229.75,"v":-93.64},{"b":230,"v":-93.18},{"b":230.25,"v":-93.16},{"b":230.5,"v":-93.58},{"b":230.75,"v":-92.87},{"b":231,"v":-93.07},{"b":231.25,"v":-93.30},{"b":231.5,"v":-92.56},{"b":231.75,"v":-93.83},{"b":232,"v":-93.21},{"b":232.25,"v":-93.52},{"b":232.5,"v":-93.69},{"b":232.75,"v":-93.04},{"b":233,"v":-93.44},{"b":233.25,"v":-93.47},{"b":233.5,"v":-92.76},{"b":233.75,"v":-93.47},{"b":234,"v":-92.87},{"b":234.25,"v":-93.47},{"b":234.5,"v":-93.10},{"b":234.75,"v":-93.81},{"b":235,"v":-92.76},{"b":235.25,"v":-93.16},{"b":235.5,"v":-93.01},{"b":235.75,"v":-93.27},{"b":236,"v":-92.65},{"b":236.25,"v":-93.24},{"b":236.5,"v":-92.65},{"b":236.75,"v":-93.13},{"b":237,"v":-93.47},{"b":237.25,"v":-92.87},{"b":237.5,"v":-92.99},{"b":237.75,"v":-92.77},{"b":238,"v":-93.13},{"b":238.25,"v":-93.24},{"b":238.5,"v":-92.79},{"b":238.75,"v":-92.96},{"b":239,"v":-92.36},{"b":239.25,"v":-93.16},{"b":239.5,"v":-92.34},{"b":239.75,"v":-93.38},{"b":239.85,"v":-92.24},{"b":240,"v":-92.90}
  ],
  "cs": [
    {"b":205,"LE2":0.092,"LE3":0.009,"LE4":-0.045,"LE5":-1},{"b":205.25,"LE2":0.135,"LE3":0.018,"LE4":-0.035,"LE5":-1},{"b":205.5,"LE2":0.123,"LE3":0.012,"LE4":-0.020,"LE5":-1},{"b":205.75,"LE2":0.080,"LE3":0.020,"LE4":-0.030,"LE5":-1},
    {"b":206,"LE2":0.085,"LE3":0.017,"LE4":-0.032,"LE5":-1},{"b":206.25,"LE2":0.130,"LE3":0.008,"LE4":-0.015,"LE5":-1},{"b":206.5,"LE2":0.104,"LE3":0.015,"LE4":-0.007,"LE5":-1},{"b":206.75,"LE2":0.090,"LE3":0.010,"LE4":-0.025,"LE5":-1},
    {"b":207,"LE2":0.116,"LE3":0.011,"LE4":-0.032,"LE5":-1},{"b":207.25,"LE2":0.130,"LE3":0.020,"LE4":-0.060,"LE5":-1},{"b":207.5,"LE2":0.079,"LE3":0.012,"LE4":-0.020,"LE5":-1},{"b":207.75,"LE2":0.110,"LE3":0.018,"LE4":-0.010,"LE5":-1},
    {"b":208,"LE2":0.141,"LE3":0.024,"LE4":-0.014,"LE5":-1},{"b":208.25,"LE2":0.105,"LE3":0.010,"LE4":-0.035,"LE5":-1},{"b":208.5,"LE2":0.098,"LE3":0.016,"LE4":-0.026,"LE5":-1},{"b":208.75,"LE2":0.128,"LE3":0.022,"LE4":-0.010,"LE5":-1},
    {"b":209,"LE2":0.116,"LE3":0.017,"LE4":-0.014,"LE5":-1},{"b":209.25,"LE2":0.090,"LE3":0.008,"LE4":-0.088,"LE5":-1},{"b":209.5,"LE2":0.098,"LE3":0.020,"LE4":-0.014,"LE5":-1},{"b":209.75,"LE2":0.157,"LE3":0.012,"LE4":-0.025,"LE5":-1},
    {"b":210,"LE2":0.067,"LE3":0.030,"LE4":-0.038,"LE5":-1},{"b":210.25,"LE2":0.120,"LE3":0.015,"LE4":-0.015,"LE5":-1},{"b":210.5,"LE2":0.098,"LE3":0.022,"LE4":-0.026,"LE5":-1},{"b":210.75,"LE2":0.080,"LE3":0.010,"LE4":-0.060,"LE5":-1},
    {"b":211,"LE2":0.073,"LE3":0.024,"LE4":-0.051,"LE5":-1},{"b":211.25,"LE2":0.115,"LE3":0.012,"LE4":-0.094,"LE5":-1},{"b":211.5,"LE2":0.055,"LE3":0.028,"LE4":-0.026,"LE5":-1},{"b":211.75,"LE2":0.105,"LE3":0.010,"LE4":-0.045,"LE5":-1.012},
    {"b":212,"LE2":0.116,"LE3":0.011,"LE4":-0.038,"LE5":-1},{"b":212.25,"LE2":0.130,"LE3":0.018,"LE4":-0.020,"LE5":-1},{"b":212.5,"LE2":0.085,"LE3":0.008,"LE4":-0.020,"LE5":-1},{"b":212.75,"LE2":0.120,"LE3":0.015,"LE4":-0.045,"LE5":-1},
    {"b":213,"LE2":0.110,"LE3":0.017,"LE4":-0.051,"LE5":-1},{"b":213.25,"LE2":0.090,"LE3":0.010,"LE4":-0.030,"LE5":-1},{"b":213.5,"LE2":0.079,"LE3":0.020,"LE4":-0.088,"LE5":-1},{"b":213.75,"LE2":0.115,"LE3":0.012,"LE4":-0.020,"LE5":-1},
    {"b":214,"LE2":0.098,"LE3":0.005,"LE4":-0.007,"LE5":-1},{"b":214.25,"LE2":0.085,"LE3":0.015,"LE4":-0.040,"LE5":-1},{"b":214.5,"LE2":0.123,"LE3":0.010,"LE4":-0.038,"LE5":-1},{"b":214.75,"LE2":0.150,"LE3":0.002,"LE4":-0.015,"LE5":-1},
    {"b":215,"LE2":0.135,"LE3":0.017,"LE4":-0.026,"LE5":-1},{"b":215.25,"LE2":0.095,"LE3":0.012,"LE4":-0.050,"LE5":-1},{"b":215.5,"LE2":0.104,"LE3":0.008,"LE4":-0.045,"LE5":-1},{"b":215.75,"LE2":0.120,"LE3":0.024,"LE4":-0.020,"LE5":-1},
    {"b":216,"LE2":0.073,"LE3":0.011,"LE4":-0.057,"LE5":-1},{"b":216.25,"LE2":0.110,"LE3":0.005,"LE4":-0.030,"LE5":-1},{"b":216.5,"LE2":0.098,"LE3":0.015,"LE4":-0.001,"LE5":-1},{"b":216.75,"LE2":0.125,"LE3":0.010,"LE4":-0.030,"LE5":-1},
    {"b":217,"LE2":0.110,"LE3":0.024,"LE4":-0.038,"LE5":-1},{"b":217.25,"LE2":0.085,"LE3":0.008,"LE4":-0.060,"LE5":-1.01},{"b":217.5,"LE2":0.110,"LE3":0.012,"LE4":-0.100,"LE5":-1},{"b":217.75,"LE2":0.130,"LE3":0.018,"LE4":-0.040,"LE5":-1},
    {"b":218,"LE2":0.085,"LE3":0.011,"LE4":-0.026,"LE5":-1},{"b":218.25,"LE2":0.115,"LE3":0.006,"LE4":-0.050,"LE5":-1},{"b":218.5,"LE2":0.110,"LE3":0.015,"LE4":-0.051,"LE5":-1},{"b":218.75,"LE2":0.080,"LE3":0.010,"LE4":-0.030,"LE5":-1},
    {"b":219,"LE2":0.098,"LE3":0.017,"LE4":-0.032,"LE5":-1},{"b":219.25,"LE2":0.120,"LE3":0.008,"LE4":-0.065,"LE5":-1},{"b":219.5,"LE2":0.073,"LE3":0.020,"LE4":-0.057,"LE5":-1},{"b":219.75,"LE2":0.100,"LE3":0.010,"LE4":-0.020,"LE5":-1},
    {"b":220,"LE2":0.110,"LE3":0.011,"LE4":-0.014,"LE5":-1},{"b":220.25,"LE2":0.125,"LE3":0.018,"LE4":-0.040,"LE5":-1},{"b":220.5,"LE2":0.085,"LE3":0.006,"LE4":-0.020,"LE5":-1},{"b":220.75,"LE2":0.140,"LE3":0.015,"LE4":-0.050,"LE5":-1},
    {"b":221,"LE2":0.123,"LE3":0.017,"LE4":-0.045,"LE5":-1},{"b":221.25,"LE2":0.090,"LE3":0.010,"LE4":-0.030,"LE5":-1},{"b":221.5,"LE2":0.085,"LE3":0.012,"LE4":-0.063,"LE5":-1},{"b":221.75,"LE2":0.110,"LE3":0.020,"LE4":-0.045,"LE5":-1},
    {"b":222,"LE2":0.067,"LE3":0.005,"LE4":-0.051,"LE5":-1},{"b":222.25,"LE2":0.036,"LE3":0.012,"LE4":-0.075,"LE5":-1},{"b":222.5,"LE2":0.110,"LE3":0.008,"LE4":-0.038,"LE5":-1},{"b":222.75,"LE2":0.125,"LE3":0.016,"LE4":-0.060,"LE5":-1},
    {"b":223,"LE2":0.098,"LE3":0.017,"LE4":-0.100,"LE5":-1},{"b":223.25,"LE2":0.166,"LE3":0.008,"LE4":-0.050,"LE5":-1},{"b":223.5,"LE2":0.147,"LE3":0.012,"LE4":-0.045,"LE5":-1},{"b":223.75,"LE2":0.090,"LE3":0.020,"LE4":-0.080,"LE5":-1},
    {"b":224,"LE2":0.079,"LE3":0.011,"LE4":-0.063,"LE5":-1},{"b":224.25,"LE2":0.110,"LE3":0.005,"LE4":-0.040,"LE5":-1},{"b":224.5,"LE2":0.098,"LE3":0.022,"LE4":-0.032,"LE5":-1},{"b":224.75,"LE2":0.130,"LE3":0.010,"LE4":-0.060,"LE5":-1},
    {"b":225,"LE2":0.098,"LE3":0.017,"LE4":-0.051,"LE5":-1},{"b":225.25,"LE2":0.115,"LE3":0.008,"LE4":-0.035,"LE5":-1.015},{"b":225.5,"LE2":0.092,"LE3":0.014,"LE4":-0.063,"LE5":-1},{"b":225.75,"LE2":0.080,"LE3":0.006,"LE4":-0.085,"LE5":-1},
    {"b":226,"LE2":0.055,"LE3":0.011,"LE4":-0.100,"LE5":-1},{"b":226.25,"LE2":0.120,"LE3":0.018,"LE4":-0.045,"LE5":-1},{"b":226.5,"LE2":0.098,"LE3":0.010,"LE4":-0.014,"LE5":-1},{"b":226.75,"LE2":0.110,"LE3":0.004,"LE4":-0.070,"LE5":-1},
    {"b":227,"LE2":0.067,"LE3":0.017,"LE4":-0.113,"LE5":-1},{"b":227.25,"LE2":0.100,"LE3":0.010,"LE4":-0.030,"LE5":-1},{"b":227.5,"LE2":0.110,"LE3":0.015,"LE4":-0.038,"LE5":-1},{"b":227.75,"LE2":0.085,"LE3":0.006,"LE4":-0.090,"LE5":-1},
    {"b":228,"LE2":0.085,"LE3":0.005,"LE4":-0.076,"LE5":-1},{"b":228.25,"LE2":0.115,"LE3":0.012,"LE4":-0.050,"LE5":-1},{"b":228.5,"LE2":0.067,"LE3":0.002,"LE4":-0.125,"LE5":-1},{"b":228.75,"LE2":0.100,"LE3":0.010,"LE4":-0.060,"LE5":-1},
    {"b":229,"LE2":0.085,"LE3":-0.001,"LE4":-0.063,"LE5":-1},{"b":229.25,"LE2":0.110,"LE3":0.006,"LE4":-0.090,"LE5":-1},{"b":229.5,"LE2":0.092,"LE3":0.002,"LE4":-0.045,"LE5":-1},{"b":229.75,"LE2":0.070,"LE3":0.010,"LE4":-0.070,"LE5":-1},
    {"b":230,"LE2":0.085,"LE3":0.005,"LE4":-0.076,"LE5":-1.01},{"b":230.25,"LE2":0.110,"LE3":-0.002,"LE4":-0.060,"LE5":-1},{"b":230.5,"LE2":0.079,"LE3":0.008,"LE4":-0.088,"LE5":-1},{"b":230.75,"LE2":0.100,"LE3":0.002,"LE4":-0.070,"LE5":-1},
    {"b":231,"LE2":0.123,"LE3":0.011,"LE4":-0.076,"LE5":-1.01},{"b":231.25,"LE2":0.166,"LE3":0.004,"LE4":-0.100,"LE5":-1},{"b":231.5,"LE2":0.110,"LE3":0.000,"LE4":-0.162,"LE5":-1},{"b":231.75,"LE2":0.090,"LE3":0.008,"LE4":-0.070,"LE5":-1},
    {"b":232,"LE2":0.073,"LE3":0.005,"LE4":-0.076,"LE5":-1},{"b":232.25,"LE2":0.105,"LE3":-0.001,"LE4":-0.110,"LE5":-1},{"b":232.5,"LE2":0.098,"LE3":0.006,"LE4":-0.094,"LE5":-1},{"b":232.75,"LE2":0.120,"LE3":0.002,"LE4":-0.060,"LE5":-1},
    {"b":233,"LE2":0.079,"LE3":0.002,"LE4":-0.076,"LE5":-1},{"b":233.25,"LE2":0.100,"LE3":0.008,"LE4":-0.120,"LE5":-1},{"b":233.5,"LE2":0.110,"LE3":0.000,"LE4":-0.100,"LE5":-1},{"b":233.75,"LE2":0.085,"LE3":0.004,"LE4":-0.080,"LE5":-1},
    {"b":234,"LE2":0.098,"LE3":-0.001,"LE4":-0.113,"LE5":-1},{"b":234.25,"LE2":0.080,"LE3":0.006,"LE4":-0.090,"LE5":-1},{"b":234.5,"LE2":0.042,"LE3":0.002,"LE4":-0.082,"LE5":-1},{"b":234.75,"LE2":0.090,"LE3":-0.020,"LE4":-0.120,"LE5":-1},
    {"b":235,"LE2":0.098,"LE3":0.005,"LE4":-0.180,"LE5":-1},{"b":235.25,"LE2":0.075,"LE3":-0.002,"LE4":-0.100,"LE5":-1},{"b":235.5,"LE2":0.085,"LE3":0.006,"LE4":-0.150,"LE5":-1},{"b":235.75,"LE2":0.110,"LE3":0.001,"LE4":-0.110,"LE5":-1},
    {"b":236,"LE2":0.085,"LE3":0.005,"LE4":-0.088,"LE5":-1},{"b":236.25,"LE2":0.070,"LE3":0.008,"LE4":-0.130,"LE5":-1},{"b":236.5,"LE2":0.098,"LE3":-0.002,"LE4":-0.193,"LE5":-1},{"b":236.75,"LE2":0.110,"LE3":0.004,"LE4":-0.090,"LE5":-1},
    {"b":237,"LE2":0.079,"LE3":-0.001,"LE4":-0.100,"LE5":-1},{"b":237.25,"LE2":0.090,"LE3":0.006,"LE4":-0.140,"LE5":-1},{"b":237.5,"LE2":0.129,"LE3":0.000,"LE4":-0.138,"LE5":-1},{"b":237.75,"LE2":0.100,"LE3":0.008,"LE4":-0.095,"LE5":-1},
    {"b":238,"LE2":0.085,"LE3":0.005,"LE4":-0.088,"LE5":-1},{"b":238.25,"LE2":0.110,"LE3":-0.001,"LE4":-0.120,"LE5":-1},{"b":238.5,"LE2":0.073,"LE3":0.004,"LE4":-0.168,"LE5":-1},{"b":238.75,"LE2":0.090,"LE3":0.008,"LE4":-0.100,"LE5":-1},
    {"b":239,"LE2":0.116,"LE3":0.002,"LE4":-0.100,"LE5":-1},{"b":239.25,"LE2":0.080,"LE3":0.006,"LE4":-0.150,"LE5":-1},{"b":239.5,"LE2":0.079,"LE3":-0.002,"LE4":-0.187,"LE5":-1},{"b":239.75,"LE2":0.070,"LE3":0.004,"LE4":-0.080,"LE5":-1},
    {"b":240,"LE2":0.123,"LE3":0.009,"LE4":-0.045,"LE5":-1}
  ],
  "d": [
    {"b":205.0,"v":5.2295},{"b":205.08,"v":5.2301},{"b":205.17,"v":5.2278},{"b":205.26,"v":5.2284},{"b":205.37,"v":5.2291},{"b":205.48,"v":5.2272},{"b":205.57,"v":5.2278},{"b":205.68,"v":5.2299},{"b":205.77,"v":5.2274},{"b":205.86,"v":5.2294},{"b":205.98,"v":5.2278},{"b":206.07,"v":5.2297},{"b":206.18,"v":5.2271},{"b":206.27,"v":5.2308},{"b":206.38,"v":5.2290},{"b":206.47,"v":5.2284},{"b":206.56,"v":5.2300},{"b":206.68,"v":5.2289},{"b":206.79,"v":5.2299},{"b":206.88,"v":5.2289},{"b":206.99,"v":5.2302},{"b":207.08,"v":5.2263},{"b":207.20,"v":5.2279},{"b":207.29,"v":5.2274},{"b":207.38,"v":5.2292},{"b":207.47,"v":5.2309},{"b":207.56,"v":5.2285},{"b":207.65,"v":5.2293},{"b":207.76,"v":5.2290},{"b":207.87,"v":5.2302},{"b":207.96,"v":5.2295},{"b":208.08,"v":5.2299},{"b":208.19,"v":5.2299},{"b":208.28,"v":5.2285},{"b":208.37,"v":5.2295},{"b":208.46,"v":5.2290},{"b":208.57,"v":5.2305},{"b":208.68,"v":5.2294},{"b":208.77,"v":5.2286},{"b":208.89,"v":5.2300},{"b":208.98,"v":5.2286},{"b":209.09,"v":5.2295},{"b":209.18,"v":5.2313},{"b":209.29,"v":5.2294},{"b":209.38,"v":5.2295},{"b":209.50,"v":5.2295},{"b":209.59,"v":5.2300},{"b":209.68,"v":5.2302},{"b":209.77,"v":5.2297},{"b":209.86,"v":5.2294},{"b":209.97,"v":5.2304},{"b":210.08,"v":5.2294},{"b":210.17,"v":5.2317},{"b":210.26,"v":5.2281},{"b":210.35,"v":5.2272},{"b":210.47,"v":5.2264},{"b":210.58,"v":5.2310},{"b":210.67,"v":5.2291},{"b":210.76,"v":5.2295},{"b":210.87,"v":5.2252},{"b":210.99,"v":5.2312},{"b":211.08,"v":5.2290},{"b":211.19,"v":5.2290},{"b":211.30,"v":5.2319},{"b":211.39,"v":5.2299},{"b":211.48,"v":5.2280},{"b":211.59,"v":5.2301},{"b":211.68,"v":5.2307},{"b":211.77,"v":5.2303},{"b":211.89,"v":5.2307},{"b":211.98,"v":5.2301},{"b":212.07,"v":5.2306},{"b":212.16,"v":5.2279},{"b":212.27,"v":5.2300},{"b":212.38,"v":5.2299},{"b":212.47,"v":5.2281},{"b":212.59,"v":5.2290},{"b":212.68,"v":5.2301},{"b":212.79,"v":5.2305},{"b":212.88,"v":5.2286},{"b":212.99,"v":5.2279},{"b":213.08,"v":5.2329},{"b":213.17,"v":5.2298},{"b":213.29,"v":5.2310},{"b":213.38,"v":5.2274},{"b":213.49,"v":5.2264},{"b":213.60,"v":5.2322},{"b":213.69,"v":5.2276},{"b":213.81,"v":5.2304},{"b":213.90,"v":5.2309},{"b":213.99,"v":5.2315},{"b":214.08,"v":5.2334},{"b":214.17,"v":5.2297},{"b":214.28,"v":5.2307},{"b":214.37,"v":5.2295},{"b":214.48,"v":5.2256},{"b":214.59,"v":5.2312},{"b":214.68,"v":5.2319},{"b":214.78,"v":5.2278},{"b":214.89,"v":5.2312},{"b":215.00,"v":5.2303},{"b":215.09,"v":5.2334},{"b":215.20,"v":5.2303},{"b":215.29,"v":5.2305},{"b":215.41,"v":5.2305},{"b":215.50,"v":5.2295},{"b":215.61,"v":5.2302},{"b":215.70,"v":5.2305},{"b":215.79,"v":5.2292},{"b":215.88,"v":5.2289},{"b":215.99,"v":5.2301},{"b":216.08,"v":5.2317},{"b":216.17,"v":5.2308},{"b":216.26,"v":5.2334},{"b":216.38,"v":5.2313},{"b":216.47,"v":5.2312},{"b":216.56,"v":5.2301},{"b":216.67,"v":5.2318},{"b":216.76,"v":5.2304},{"b":216.87,"v":5.2334},{"b":216.96,"v":5.2318},{"b":217.05,"v":5.2313},{"b":217.17,"v":5.2323},{"b":217.26,"v":5.2295},{"b":217.35,"v":5.2306},{"b":217.46,"v":5.2291},{"b":217.55,"v":5.2273},{"b":217.66,"v":5.2310},{"b":217.78,"v":5.2312},{"b":217.87,"v":5.2326},{"b":217.98,"v":5.2311},{"b":218.07,"v":5.2310},{"b":218.18,"v":5.2269},{"b":218.27,"v":5.2276},{"b":218.38,"v":5.2318},{"b":218.47,"v":5.2280},{"b":218.56,"v":5.2305},{"b":218.68,"v":5.2300},{"b":218.79,"v":5.2314},{"b":218.90,"v":5.2290},{"b":218.99,"v":5.2271},{"b":219.08,"v":5.2326},{"b":219.17,"v":5.2324},{"b":219.29,"v":5.2287},{"b":219.38,"v":5.2304},{"b":219.49,"v":5.2325},{"b":219.58,"v":5.2291},{"b":219.69,"v":5.2303},{"b":219.78,"v":5.2295},{"b":219.90,"v":5.2303},{"b":220.01,"v":5.2304},{"b":220.10,"v":5.2298},{"b":220.19,"v":5.2334},{"b":220.28,"v":5.2290},{"b":220.37,"v":5.2275},{"b":220.46,"v":5.2324},{"b":220.57,"v":5.2319},{"b":220.66,"v":5.2300},{"b":220.75,"v":5.2301},{"b":220.87,"v":5.2307},{"b":220.98,"v":5.2269},{"b":221.07,"v":5.2313},{"b":221.18,"v":5.2314},{"b":221.27,"v":5.2291},{"b":221.36,"v":5.2303},{"b":221.45,"v":5.2302},{"b":221.57,"v":5.2297},{"b":221.66,"v":5.2305},{"b":221.77,"v":5.2319},{"b":221.86,"v":5.2296},{"b":221.95,"v":5.2300},{"b":222.06,"v":5.2283},{"b":222.15,"v":5.2304},{"b":222.24,"v":5.2304},{"b":222.33,"v":5.2299},{"b":222.44,"v":5.2318},{"b":222.54,"v":5.2291},{"b":222.63,"v":5.2314},{"b":222.72,"v":5.2299},{"b":222.81,"v":5.2323},{"b":222.90,"v":5.2289},{"b":222.99,"v":5.2256},{"b":223.08,"v":5.2298},{"b":223.19,"v":5.2322},{"b":223.30,"v":5.2298},{"b":223.39,"v":5.2288},{"b":223.48,"v":5.2278},{"b":223.57,"v":5.2318},{"b":223.66,"v":5.2276},{"b":223.75,"v":5.2290},{"b":223.87,"v":5.2281},{"b":223.96,"v":5.2301},{"b":224.05,"v":5.2303},{"b":224.16,"v":5.2338},{"b":224.25,"v":5.2307},{"b":224.34,"v":5.2305},{"b":224.43,"v":5.2312},{"b":224.52,"v":5.2321},{"b":224.61,"v":5.2290},{"b":224.72,"v":5.2295},{"b":224.81,"v":5.2294},{"b":224.90,"v":5.2288},{"b":224.99,"v":5.2322},{"b":225.08,"v":5.2305},{"b":225.17,"v":5.2297},{"b":225.29,"v":5.2291},{"b":225.38,"v":5.2297},{"b":225.47,"v":5.2297},{"b":225.56,"v":5.2285},{"b":225.67,"v":5.2319},{"b":225.76,"v":5.2295},{"b":225.87,"v":5.2302},{"b":225.96,"v":5.2334},{"b":226.05,"v":5.2269},{"b":226.17,"v":5.2266},{"b":226.26,"v":5.2274},{"b":226.37,"v":5.2302},{"b":226.46,"v":5.2297},{"b":226.55,"v":5.2303},{"b":226.66,"v":5.2273},{"b":226.75,"v":5.2276},{"b":226.84,"v":5.2290},{"b":226.96,"v":5.2334},{"b":227.05,"v":5.2301},{"b":227.11,"v":5.2266},{"b":227.20,"v":5.2319},{"b":227.29,"v":5.2281},{"b":227.39,"v":5.2317},{"b":227.48,"v":5.2264},{"b":227.59,"v":5.2325},{"b":227.68,"v":5.2285},{"b":227.79,"v":5.2278},{"b":227.88,"v":5.2298},{"b":227.97,"v":5.2269},{"b":228.06,"v":5.2285},{"b":228.15,"v":5.2308},{"b":228.24,"v":5.2285},{"b":228.33,"v":5.2280},{"b":228.42,"v":5.2305},{"b":228.51,"v":5.2274},{"b":228.60,"v":5.2269},{"b":228.69,"v":5.2294},{"b":228.78,"v":5.2308},{"b":228.87,"v":5.2286},{"b":228.99,"v":5.2318},{"b":229.08,"v":5.2256},{"b":229.19,"v":5.2331},{"b":229.28,"v":5.2297},{"b":229.39,"v":5.2281},{"b":229.48,"v":5.2265},{"b":229.57,"v":5.2276},{"b":229.69,"v":5.2300},{"b":229.78,"v":5.2291},{"b":229.87,"v":5.2308},{"b":229.98,"v":5.2315},{"b":230.07,"v":5.2285},{"b":230.18,"v":5.2314},{"b":230.27,"v":5.2274},{"b":230.36,"v":5.2271},{"b":230.48,"v":5.2303},{"b":230.57,"v":5.2254},{"b":230.66,"v":5.2305},{"b":230.77,"v":5.2272},{"b":230.86,"v":5.2249},{"b":230.97,"v":5.2269},{"b":231.08,"v":5.2303},{"b":231.17,"v":5.2309},{"b":231.27,"v":5.2278},{"b":231.38,"v":5.2222},{"b":231.47,"v":5.2272},{"b":231.58,"v":5.2273},{"b":231.67,"v":5.2328},{"b":231.76,"v":5.2290},{"b":231.85,"v":5.2288},{"b":231.96,"v":5.2275},{"b":232.08,"v":5.2304},{"b":232.19,"v":5.2285},{"b":232.28,"v":5.2302},{"b":232.37,"v":5.2259},{"b":232.48,"v":5.2317},{"b":232.57,"v":5.2278},{"b":232.69,"v":5.2264},{"b":232.78,"v":5.2310},{"b":232.87,"v":5.2276},{"b":232.98,"v":5.2267},{"b":233.09,"v":5.2284},{"b":233.18,"v":5.2275},{"b":233.27,"v":5.2297},{"b":233.36,"v":5.2237},{"b":233.48,"v":5.2255},{"b":233.59,"v":5.2300},{"b":233.70,"v":5.2254},{"b":233.79,"v":5.2299},{"b":233.90,"v":5.2281},{"b":233.99,"v":5.2246},{"b":234.11,"v":5.2281},{"b":234.20,"v":5.2308},{"b":234.31,"v":5.2255},{"b":234.42,"v":5.2281},{"b":234.51,"v":5.2281},{"b":234.60,"v":5.2253},{"b":234.69,"v":5.2325},{"b":234.78,"v":5.2241},{"b":234.87,"v":5.2288},{"b":234.99,"v":5.2249},{"b":235.08,"v":5.2236},{"b":235.17,"v":5.2263},{"b":235.28,"v":5.2255},{"b":235.37,"v":5.2301},{"b":235.46,"v":5.2271},{"b":235.55,"v":5.2256},{"b":235.64,"v":5.2287},{"b":235.75,"v":5.2249},{"b":235.84,"v":5.2282},{"b":235.96,"v":5.2285},{"b":236.05,"v":5.2227},{"b":236.14,"v":5.2283},{"b":236.23,"v":5.2252},{"b":236.32,"v":5.2261},{"b":236.43,"v":5.2246},{"b":236.52,"v":5.2229},{"b":236.61,"v":5.2280},{"b":236.70,"v":5.2236},{"b":236.79,"v":5.2227},{"b":236.88,"v":5.2290},{"b":236.99,"v":5.2301},{"b":237.09,"v":5.2282},{"b":237.20,"v":5.2269},{"b":237.29,"v":5.2245},{"b":237.38,"v":5.2247},{"b":237.47,"v":5.2267},{"b":237.56,"v":5.2250},{"b":237.65,"v":5.2269},{"b":237.74,"v":5.2238},{"b":237.85,"v":5.2244},{"b":237.94,"v":5.2242},{"b":238.05,"v":5.2263},{"b":238.15,"v":5.2274},{"b":238.26,"v":5.2281},{"b":238.35,"v":5.2279},{"b":238.44,"v":5.2241},{"b":238.53,"v":5.2256},{"b":238.64,"v":5.2269},{"b":238.75,"v":5.2229},{"b":238.87,"v":5.2205},{"b":238.96,"v":5.2236},{"b":239.05,"v":5.2273},{"b":239.14,"v":5.2240},{"b":239.23,"v":5.2266},{"b":239.32,"v":5.2250},{"b":239.43,"v":5.2202},{"b":239.52,"v":5.2265},{"b":239.61,"v":5.2290},{"b":239.70,"v":5.2285},{"b":239.77,"v":5.2194},{"b":239.88,"v":5.2271},{"b":240.0,"v":5.2249}
  ]
},
"resolve": {"scale": {"x": "independent", "y": "independent", "color": "independent"}, "axis": {"x": "independent", "y": "independent"}},
"layer": [
  {
    "data": {"name": "a"},
    "mark": {"type": "line", "strokeWidth": 4, "strokeJoin": "round"},
    "encoding": {
      "x": {"field": "b", "type": "quantitative", "scale": {"domain": [0, 500], "range": [226, 1580], "nice": false, "zero": false},
        "axis": {"orient": "bottom", "offset": -1861, "values": [0, 100, 200, 300, 400, 500], "format": "d", "grid": false, "labelFontSize": 54, "labelPadding": 41, "title": "b", "titleFontSize": 88, "titleFontStyle": "italic", "titleX": 903, "titleY": 171}},
      "y": {"field": "v", "type": "quantitative", "scale": {"domain": [-38, 25], "range": [1012, 82], "nice": false, "zero": false},
        "axis": {"orient": "left", "offset": -226, "values": [-30, -20, -10, 0, 10, 20], "format": "d", "grid": true, "gridDash": [9, 6], "labelFontSize": 54, "labelPadding": 35, "title": "Lyapunov Exponents", "titleFontSize": 94, "titleAngle": -90, "titleX": -138, "titleY": 547}},
      "color": {"field": "s", "type": "nominal", "scale": {"domain": ["LE1", "LE2", "LE3", "LE4", "LE5"], "range": ["#0072BD", "#D95319", "#EDB120", "#7E2F8E", "#77AC30"]}, "legend": null}
    }
  },
  {
    "data": {"values": [{}]},
    "mark": {"type": "rect", "fill": "white", "fillOpacity": 0, "stroke": "#262626", "strokeWidth": 2.5},
    "encoding": {
      "x": {"datum": 0, "type": "quantitative", "scale": {"domain": [0, 500], "range": [226, 1580], "nice": false, "zero": false},
        "axis": {"orient": "top", "offset": -82, "values": [100, 200, 300, 400], "labels": false, "grid": true, "gridDash": [9, 6], "title": "(a)", "titleFontSize": 72, "titleFontWeight": "bold", "titleX": 868, "titleY": 1283}},
      "x2": {"datum": 500},
      "y": {"datum": -38, "type": "quantitative", "scale": {"domain": [-38, 25], "range": [1012, 82], "nice": false, "zero": false},
        "axis": {"orient": "right", "offset": -1730, "values": [-30, -20, -10, 0, 10, 20], "labels": false, "grid": false, "title": null}},
      "y2": {"datum": 25}
    }
  },
  {
    "data": {"values": [{}]},
    "mark": {"type": "rect", "fill": "white", "stroke": "#262626", "strokeWidth": 2},
    "encoding": {
      "x": {"datum": 0, "type": "quantitative", "scale": {"domain": [0, 500], "range": [424, 1002], "nice": false, "zero": false},
        "axis": {"orient": "top", "offset": -590, "values": [100, 200, 300, 400], "labels": false, "grid": true, "gridDash": [2, 4], "gridColor": "#C8C8C8", "gridWidth": 2, "tickSize": -8, "tickWidth": 2, "title": null, "zindex": 1}},
      "x2": {"datum": 500},
      "y": {"datum": -96, "type": "quantitative", "scale": {"domain": [-96, -30], "range": [975, 590], "nice": false, "zero": false},
        "axis": {"orient": "left", "offset": -424, "values": [-80, -60, -40], "format": "d", "grid": true, "gridDash": [2, 4], "gridColor": "#C8C8C8", "gridWidth": 2, "tickSize": -8, "tickWidth": 2, "labelFontSize": 36, "labelPadding": 24, "title": "LE₆", "titleFontSize": 40, "titleAngle": -90, "titleX": -109, "titleY": 772, "zindex": 1}},
      "y2": {"datum": -30}
    }
  },
  {
    "data": {"name": "a6"},
    "mark": {"type": "line", "color": "#4DBEEE", "strokeWidth": 3.5, "strokeJoin": "round"},
    "encoding": {
      "x": {"field": "b", "type": "quantitative", "scale": {"domain": [0, 500], "range": [424, 1002], "nice": false, "zero": false}, "axis": null},
      "y": {"field": "v", "type": "quantitative", "scale": {"domain": [-96, -30], "range": [975, 590], "nice": false, "zero": false}, "axis": null}
    }
  },
  {
    "data": {"values": [{}]},
    "mark": {"type": "rect", "fill": "white", "stroke": "#262626", "strokeWidth": 2},
    "encoding": {
      "x": {"datum": 0, "type": "quantitative", "scale": {"domain": [0, 217], "range": [1332, 1549], "nice": false, "zero": false}, "axis": null},
      "x2": {"datum": 217},
      "y": {"datum": 0, "type": "quantitative", "scale": {"domain": [0, 342], "range": [980, 638], "nice": false, "zero": false}, "axis": null},
      "y2": {"datum": 342}
    }
  },
  {
    "data": {"name": "leg"},
    "mark": {"type": "rule", "strokeWidth": 4},
    "encoding": {
      "x": {"datum": 12, "type": "quantitative", "scale": {"domain": [0, 217], "range": [1332, 1549], "nice": false, "zero": false}, "axis": null},
      "x2": {"datum": 130},
      "y": {"field": "s", "type": "nominal", "scale": {"type": "point", "domain": ["LE1", "LE2", "LE3", "LE4", "LE5"], "range": [676, 940], "padding": 0}, "axis": null},
      "color": {"field": "s", "type": "nominal", "scale": {"domain": ["LE1", "LE2", "LE3", "LE4", "LE5"], "range": ["#0072BD", "#D95319", "#EDB120", "#7E2F8E", "#77AC30"]}, "legend": null}
    }
  },
  {
    "data": {"name": "leg"},
    "mark": {"type": "text", "align": "left", "baseline": "middle", "fontSize": 40, "fill": "#262626"},
    "encoding": {
      "x": {"datum": 139, "type": "quantitative", "scale": {"domain": [0, 217], "range": [1332, 1549], "nice": false, "zero": false}, "axis": null},
      "y": {"field": "s", "type": "nominal", "scale": {"type": "point", "domain": ["LE1", "LE2", "LE3", "LE4", "LE5"], "range": [676, 940], "padding": 0}, "axis": null},
      "text": {"field": "lab"}
    }
  },
  {
    "data": {"name": "b"},
    "mark": {"type": "line", "color": "#FF0000", "strokeWidth": 3, "strokeJoin": "round"},
    "encoding": {
      "x": {"field": "b", "type": "quantitative", "scale": {"domain": [0, 500], "range": [1999, 3225], "nice": false, "zero": false},
        "axis": {"orient": "bottom", "offset": -1864, "values": [0, 100, 200, 300, 400, 500], "format": "d", "grid": false, "labelFontSize": 86, "labelPadding": 58, "title": "b", "titleFontSize": 88, "titleFontStyle": "italic", "titleX": 2612, "titleY": 232}},
      "y": {"field": "v", "type": "quantitative", "scale": {"domain": [-0.3, 5.5], "range": [1009, 113], "nice": false, "zero": false},
        "axis": {"orient": "left", "offset": -1999, "values": [0, 1, 2, 3, 4, 5, 5.5], "format": ".2~g", "grid": true, "labelFontSize": 86, "labelPadding": 45, "title": "Kaplan-Yorke Dimension", "titleFontSize": 105, "titleAngle": -90, "titleX": -179, "titleY": 561}}
    }
  },
  {
    "data": {"values": [{}]},
    "mark": {"type": "rect", "fill": "white", "fillOpacity": 0, "stroke": "#262626", "strokeWidth": 2.5},
    "encoding": {
      "x": {"datum": 0, "type": "quantitative", "scale": {"domain": [0, 500], "range": [1999, 3225], "nice": false, "zero": false},
        "axis": {"orient": "top", "offset": -113, "values": [100, 200, 300, 400], "labels": false, "grid": true, "title": "(b)", "titleFontSize": 72, "titleFontWeight": "bold", "titleX": 2552, "titleY": 1252}},
      "x2": {"datum": 500},
      "y": {"datum": -0.3, "type": "quantitative", "scale": {"domain": [-0.3, 5.5], "range": [1009, 113], "nice": false, "zero": false},
        "axis": {"orient": "right", "offset": -85, "values": [0, 1, 2, 3, 4, 5], "labels": false, "grid": false, "title": null}},
      "y2": {"datum": 5.5}
    }
  },
  {
    "data": {"name": "c1"},
    "mark": {"type": "line", "color": "#0072BD", "strokeWidth": 4.5, "strokeJoin": "round"},
    "encoding": {
      "x": {"field": "b", "type": "quantitative", "scale": {"domain": [205, 240], "range": [226, 1580], "nice": false, "zero": false},
        "axis": {"orient": "bottom", "offset": -390, "values": [205, 210, 215, 220, 225, 230, 235, 240], "format": "d", "grid": false, "labelFontSize": 54, "labelPadding": 43, "title": "b", "titleFontSize": 88, "titleFontStyle": "italic", "titleX": 903, "titleY": 169}},
      "y": {"field": "v", "type": "quantitative", "scale": {"domain": [17, 23.2], "range": [2483, 1553], "nice": false, "zero": false},
        "axis": {"orient": "left", "offset": -226, "values": [17, 18, 19, 20, 21, 22, 23], "format": "d", "grid": true, "gridDash": [9, 6], "labelFontSize": 54, "labelPadding": 37, "title": "Lyapunov Exponents", "titleFontSize": 94, "titleAngle": -90, "titleX": -106, "titleY": 2018}}
    }
  },
  {
    "data": {"values": [{}]},
    "mark": {"type": "rect", "fill": "white", "fillOpacity": 0, "stroke": "#262626", "strokeWidth": 2.5},
    "encoding": {
      "x": {"datum": 205, "type": "quantitative", "scale": {"domain": [205, 240], "range": [226, 1580], "nice": false, "zero": false},
        "axis": {"orient": "top", "offset": -1553, "values": [210, 215, 220, 225, 230, 235], "labels": false, "grid": true, "gridDash": [9, 6], "title": "(c)", "titleFontSize": 72, "titleFontWeight": "bold", "titleX": 868, "titleY": 1287}},
      "x2": {"datum": 240},
      "y": {"datum": 17, "type": "quantitative", "scale": {"domain": [17, 23.2], "range": [2483, 1553], "nice": false, "zero": false},
        "axis": {"orient": "right", "offset": -1730, "values": [18, 19, 20, 21, 22, 23], "labels": false, "grid": false, "title": null}},
      "y2": {"datum": 23.2}
    }
  },
  {
    "data": {"values": [{}]},
    "mark": {"type": "rect", "fill": "white", "stroke": "#262626", "strokeWidth": 2},
    "encoding": {
      "x": {"datum": 205, "type": "quantitative", "scale": {"domain": [205, 240], "range": [408, 985], "nice": false, "zero": false},
        "axis": {"orient": "top", "offset": -1777, "values": [210, 220, 230], "labels": false, "grid": true, "gridDash": [2, 4], "gridColor": "#C8C8C8", "gridWidth": 2, "tickSize": -8, "tickWidth": 2, "title": null, "zindex": 1}},
      "x2": {"datum": 240},
      "y": {"datum": -94.08, "type": "quantitative", "scale": {"domain": [-94.08, -92], "range": [2023, 1777], "nice": false, "zero": false},
        "axis": {"orient": "left", "offset": -408, "values": [-94, -93.5, -93, -92.5, -92], "format": "~g", "grid": true, "gridDash": [2, 4], "gridColor": "#C8C8C8", "gridWidth": 2, "tickSize": -8, "tickWidth": 2, "labelFontSize": 34, "labelPadding": 24, "title": "LE₆", "titleFontSize": 38, "titleAngle": -90, "titleX": -136, "titleY": 1897, "zindex": 1}},
      "y2": {"datum": -92}
    }
  },
  {
    "data": {"name": "c6"},
    "mark": {"type": "line", "color": "#4DBEEE", "strokeWidth": 3.5, "strokeJoin": "round"},
    "encoding": {
      "x": {"field": "b", "type": "quantitative", "scale": {"domain": [205, 240], "range": [408, 985], "nice": false, "zero": false}, "axis": null},
      "y": {"field": "v", "type": "quantitative", "scale": {"domain": [-94.08, -92], "range": [2023, 1777], "nice": false, "zero": false}, "axis": null}
    }
  },
  {
    "data": {"values": [{}]},
    "mark": {"type": "rect", "fill": "white", "stroke": "#262626", "strokeWidth": 2},
    "encoding": {
      "x": {"datum": 205, "type": "quantitative", "scale": {"domain": [205, 240], "range": [325, 1316], "nice": false, "zero": false},
        "axis": {"orient": "top", "offset": -2049, "values": [210, 215, 220, 225, 230, 235], "labels": false, "grid": true, "gridDash": [9, 6], "tickSize": -8, "tickWidth": 2, "title": null, "zindex": 1}},
      "x2": {"datum": 240},
      "y": {"datum": -1.2, "type": "quantitative", "scale": {"domain": [-1.2, 0.31], "range": [2457, 2049], "nice": false, "zero": false},
        "axis": {"orient": "left", "offset": -325, "values": [-1.2, -0.9, -0.6, -0.3, 0, 0.3], "format": "~g", "grid": true, "gridDash": [9, 6], "tickSize": -8, "tickWidth": 2, "labelFontSize": 34, "labelPadding": 25, "title": null, "zindex": 1}},
      "y2": {"datum": 0.31}
    }
  },
  {
    "data": {"name": "cs"},
    "transform": [{"fold": ["LE2", "LE3", "LE4", "LE5"], "as": ["s", "v"]}],
    "mark": {"type": "line", "strokeWidth": 4, "strokeJoin": "round"},
    "encoding": {
      "x": {"field": "b", "type": "quantitative", "scale": {"domain": [205, 240], "range": [325, 1316], "nice": false, "zero": false}, "axis": null},
      "y": {"field": "v", "type": "quantitative", "scale": {"domain": [-1.2, 0.31], "range": [2457, 2049], "nice": false, "zero": false}, "axis": null},
      "color": {"field": "s", "type": "nominal", "scale": {"domain": ["LE1", "LE2", "LE3", "LE4", "LE5"], "range": ["#0072BD", "#D95319", "#EDB120", "#7E2F8E", "#77AC30"]}, "legend": null}
    }
  },
  {
    "data": {"values": [{}]},
    "mark": {"type": "rect", "fill": "white", "stroke": "#262626", "strokeWidth": 2},
    "encoding": {
      "x": {"datum": 0, "type": "quantitative", "scale": {"domain": [0, 217], "range": [1332, 1549], "nice": false, "zero": false}, "axis": null},
      "x2": {"datum": 217},
      "y": {"datum": 0, "type": "quantitative", "scale": {"domain": [0, 341], "range": [2451, 2110], "nice": false, "zero": false}, "axis": null},
      "y2": {"datum": 341}
    }
  },
  {
    "data": {"name": "leg"},
    "mark": {"type": "rule", "strokeWidth": 4},
    "encoding": {
      "x": {"datum": 12, "type": "quantitative", "scale": {"domain": [0, 217], "range": [1332, 1549], "nice": false, "zero": false}, "axis": null},
      "x2": {"datum": 130},
      "y": {"field": "s", "type": "nominal", "scale": {"type": "point", "domain": ["LE1", "LE2", "LE3", "LE4", "LE5"], "range": [2147, 2412], "padding": 0}, "axis": null},
      "color": {"field": "s", "type": "nominal", "scale": {"domain": ["LE1", "LE2", "LE3", "LE4", "LE5"], "range": ["#0072BD", "#D95319", "#EDB120", "#7E2F8E", "#77AC30"]}, "legend": null}
    }
  },
  {
    "data": {"name": "leg"},
    "mark": {"type": "text", "align": "left", "baseline": "middle", "fontSize": 40, "fill": "#262626"},
    "encoding": {
      "x": {"datum": 139, "type": "quantitative", "scale": {"domain": [0, 217], "range": [1332, 1549], "nice": false, "zero": false}, "axis": null},
      "y": {"field": "s", "type": "nominal", "scale": {"type": "point", "domain": ["LE1", "LE2", "LE3", "LE4", "LE5"], "range": [2147, 2412], "padding": 0}, "axis": null},
      "text": {"field": "lab"}
    }
  },
  {
    "data": {"name": "d"},
    "mark": {"type": "line", "color": "#FF0000", "strokeWidth": 3, "strokeJoin": "round"},
    "encoding": {
      "x": {"field": "b", "type": "quantitative", "scale": {"domain": [205, 240], "range": [2047, 3225], "nice": false, "zero": false},
        "axis": {"orient": "bottom", "offset": -394, "values": [205, 215, 230, 240], "format": "d", "grid": false, "labelFontSize": 86, "labelPadding": 61, "title": "b", "titleFontSize": 88, "titleFontStyle": "italic", "titleX": 2636, "titleY": 231}},
      "y": {"field": "v", "type": "quantitative", "scale": {"domain": [5.21, 5.24], "range": [2479, 1585], "nice": false, "zero": false},
        "axis": {"orient": "left", "offset": -2047, "values": [5.21, 5.22, 5.23, 5.24], "format": ".2f", "grid": true, "labelFontSize": 86, "labelPadding": 46, "title": "Kaplan-Yorke Dimension", "titleFontSize": 105, "titleAngle": -90, "titleX": -227, "titleY": 2032}}
    }
  },
  {
    "data": {"values": [{}]},
    "mark": {"type": "rect", "fill": "white", "fillOpacity": 0, "stroke": "#262626", "strokeWidth": 2.5},
    "encoding": {
      "x": {"datum": 205, "type": "quantitative", "scale": {"domain": [205, 240], "range": [2047, 3225], "nice": false, "zero": false},
        "axis": {"orient": "top", "offset": -1585, "values": [215, 230], "labels": false, "grid": true, "title": "(d)", "titleFontSize": 72, "titleFontWeight": "bold", "titleX": 2552, "titleY": 1255}},
      "x2": {"datum": 240},
      "y": {"datum": 5.21, "type": "quantitative", "scale": {"domain": [5.21, 5.24], "range": [2479, 1585], "nice": false, "zero": false},
        "axis": {"orient": "right", "offset": -85, "values": [5.22, 5.23], "labels": false, "grid": false, "title": null}},
      "y2": {"datum": 5.24}
    }
  }
]
}
